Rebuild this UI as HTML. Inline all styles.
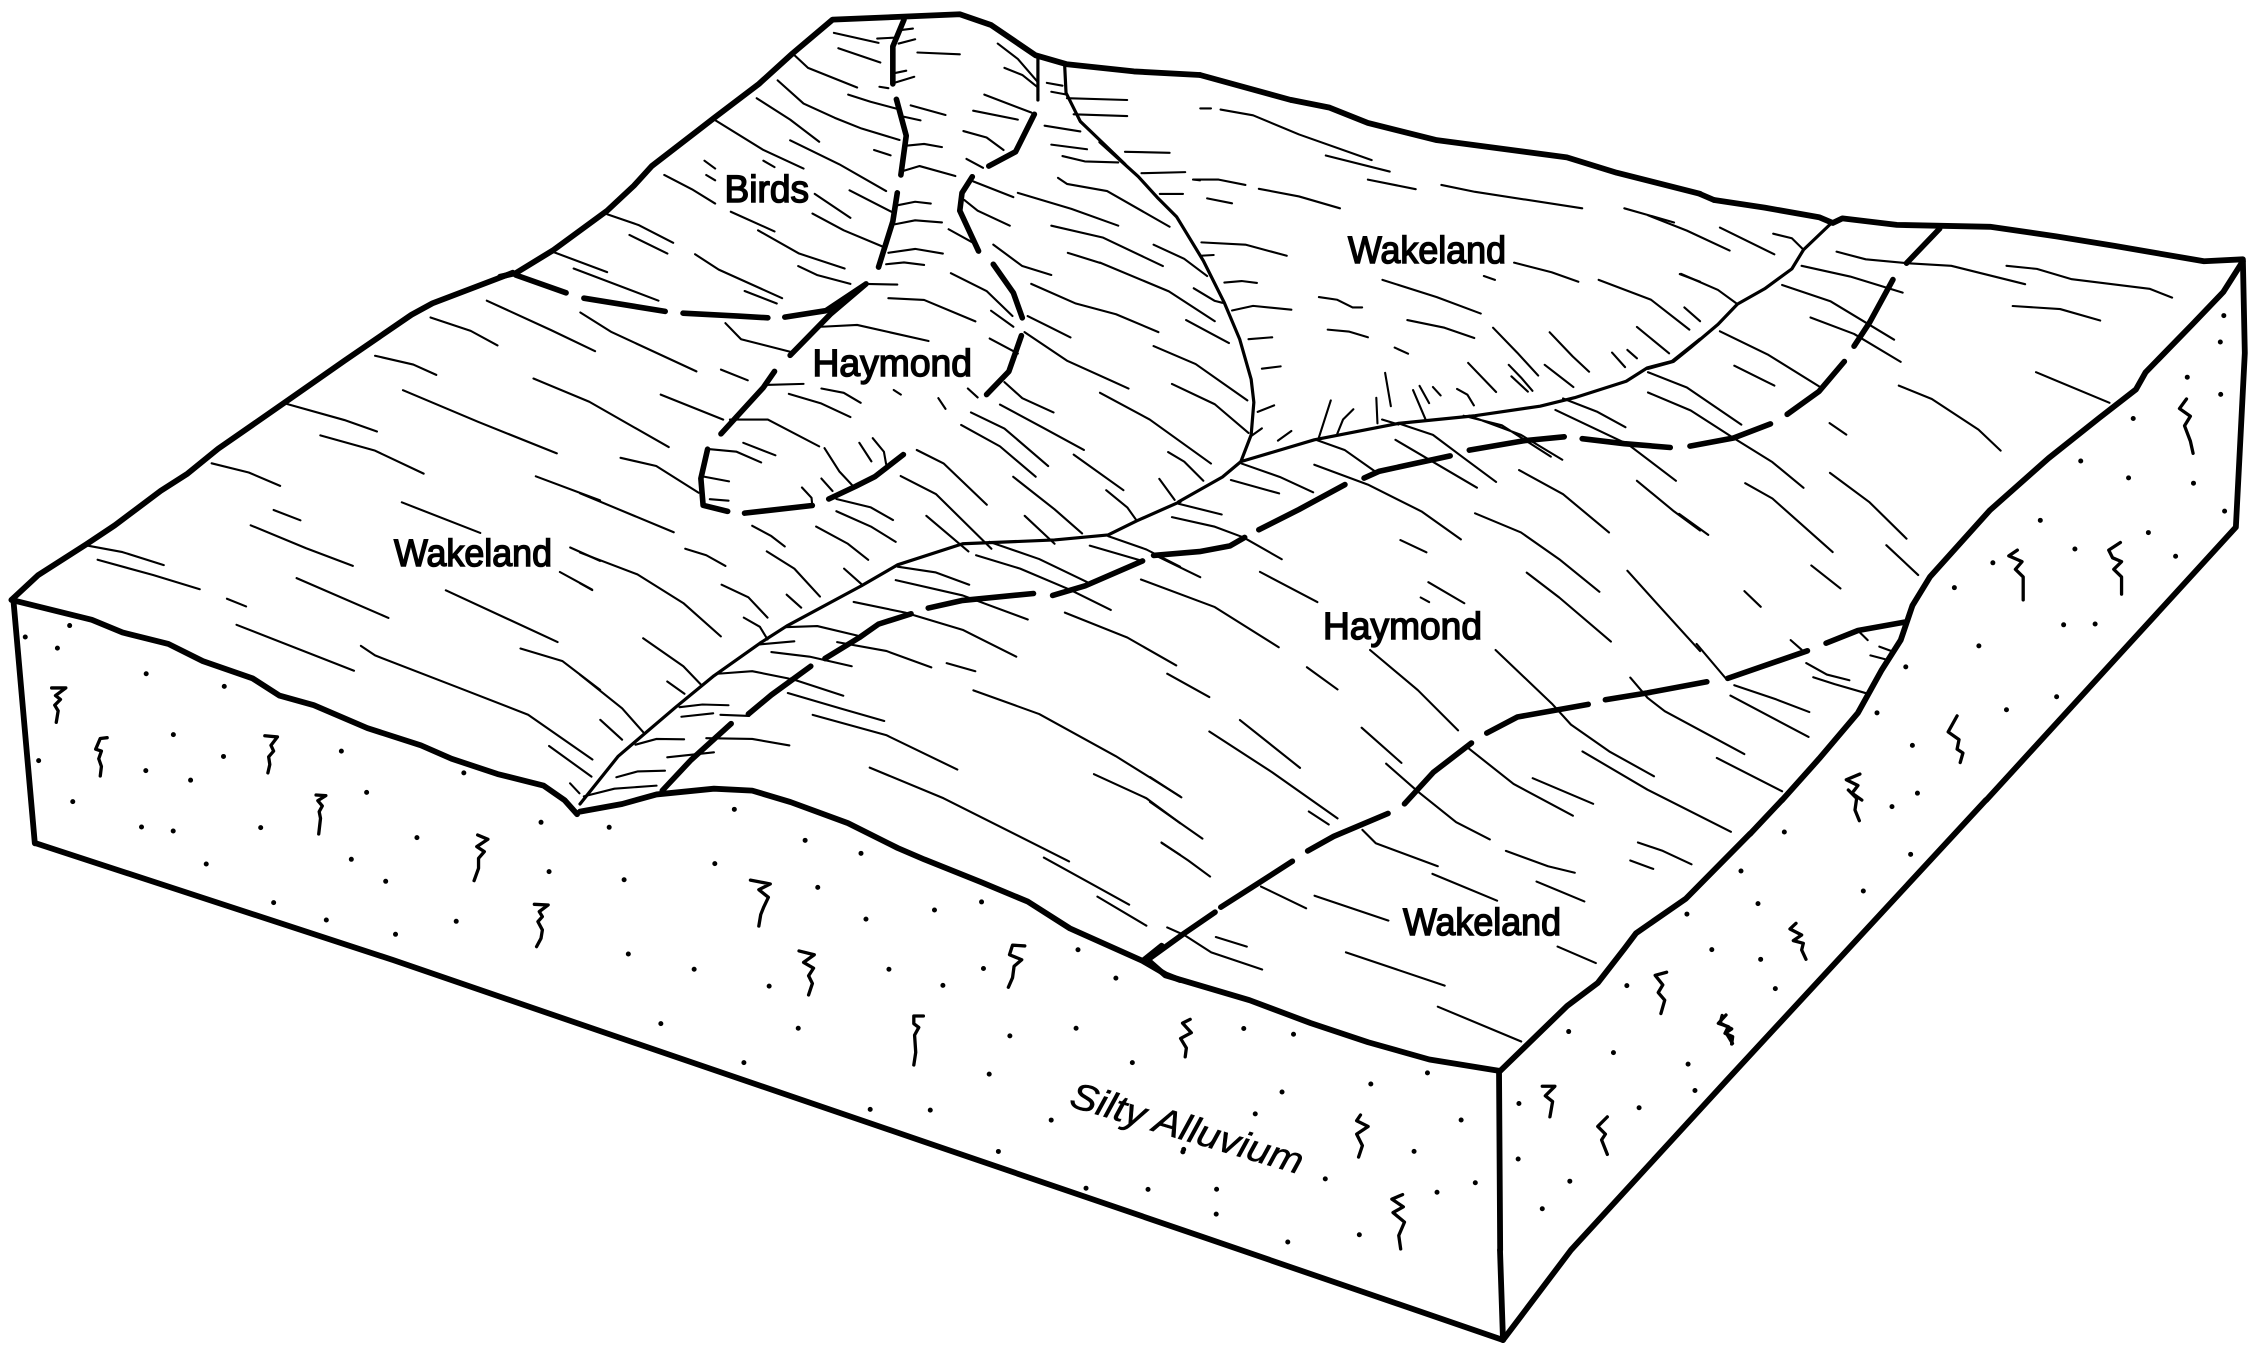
<!DOCTYPE html>
<html><head><meta charset="utf-8"><style>
html,body{margin:0;padding:0;background:#fff}
svg{display:block}
path{fill:none;stroke:#000;vector-effect:non-scaling-stroke;stroke-linecap:round;stroke-linejoin:round}
.t{stroke-width:2.1}.m{stroke-width:3.2}.b{stroke-width:5.6}.o{stroke-width:5.8}.d{stroke-width:5}.s{stroke-width:3.3}
text{font-family:"Liberation Sans",sans-serif;fill:#000;stroke:#000;stroke-width:1.5}
</style></head><body>
<svg width="2248" height="1346" viewBox="0 0 2248 1346" xmlns="http://www.w3.org/2000/svg">
<rect width="2248" height="1346" fill="#fff"/>

<!-- connecting outline pieces in real coordinates -->
<path class="o" d="M1200 75L1291 100"/>
<path class="o" d="M1700 194L1714 200"/>
<path class="o" d="M1750 834L1782 800"/>
<path class="o" d="M1986 800L1727 1080L1571 1250L1503 1340"/>
<path class="o" d="M35 843L393 960L600 1031L1200 1236L1503 1340"/>
<path class="o" d="M1500 1250L1503 1340"/>

<!-- Z1 -->
<g transform="translate(500,0) scale(.4464,.3571)">
<path class="o" d="M0 775L35 765L120 700L240 590L300 520L340 465L480 330L580 235L655 150L745 55L1030 40L1100 70L1200 155L1270 180L1420 200L1568 210"/>
<path class="m" d="M1205 160L1205 280M1265 185L1268 260L1300 340L1400 460"/>
<path class="b" d="M905 55L880 130L880 235M888 278L910 380L898 490M890 540L880 620L848 748M35 770L148 820M188 835L370 872M410 877L533 885L600 890M638 888L730 870L820 795M820 795L740 880L650 995M615 1040L590 1085L495 1215M465 1258L450 1340L455 1415L510 1432M1095 465L1155 425L1197 320M1058 495L1035 540L1030 590L1072 703M1105 740L1150 820L1170 890M1168 940L1140 1040L1090 1105"/>
<path class="t" d="M820 795L890 797M748 92L848 120M758 135L852 175M845 108L890 105M893 85L925 80M893 122L930 110M883 205L910 198M883 232L928 215M850 243L870 247M935 147L1030 152M1115 122L1160 165L1205 230M1130 190L1170 210L1205 245M1225 232L1260 240M1235 257L1270 265M1270 275L1405 280M1285 320L1405 325M1220 352L1300 368M1235 405L1315 418M1400 425L1500 428M1260 437L1310 452L1385 455M1437 485L1535 482M1555 503L1568 505M1478 543L1530 543M660 155L690 190L800 245M780 265L830 285L890 305M622 225L680 290L750 330L810 360L895 392M575 275L650 335L715 397M920 295L998 322M905 327L942 337M1060 310L1160 335M1085 265L1190 315M910 408L950 403L990 412M838 420L875 435M1038 367L1090 385L1128 420M1045 445L1082 470M480 335L590 420L680 472M650 393L760 460L865 535M590 450L615 468M458 450L482 472M462 490L482 505M368 490L430 530L482 570M900 480L940 465L1020 493M705 543L785 610M783 533L880 595M700 598L770 645L860 692M890 575L930 565L965 570M885 628L930 617L990 623M870 708L930 697L992 710M865 740L905 735L950 742M517 593L615 648M578 645L670 710L772 752M668 745L710 770L785 795M240 600L310 630L388 680M290 658L375 710M437 712L490 755L632 835M548 815L620 850M118 705L240 762M165 752L355 842M1060 508L1150 552M1160 540L1280 585L1385 632M1250 498L1270 515L1360 535L1500 635M1040 560L1070 590L1142 632M1005 642L1060 680M1235 632L1350 665L1485 745M1105 685L1170 745L1235 770M1272 708L1344 736M1190 795L1290 850L1380 880L1475 930M1010 765L1090 815L1148 885M1100 870L1150 915M1182 885L1230 915L1278 945M870 835L950 840L1065 900M720 915L800 910L960 955M505 905L540 950L650 985M1175 930L1270 1010L1408 1088M1097 948L1160 990M595 1078L680 1075M720 1088L770 1100L808 1128M647 1103L720 1130L785 1168M882 1092L898 1105M982 1115L998 1145M1048 1088L1070 1113M180 875L250 930L440 1040M495 1035L555 1065M75 1060L200 1125L378 1252M360 1105L500 1175M515 1175L600 1175L715 1250M1130 1070L1170 1115L1240 1155M1120 1133L1220 1200L1308 1260M1055 1155L1130 1200L1228 1305M1033 1190L1120 1250L1200 1335M470 1258L530 1265L585 1295M545 1240L617 1275M458 1335L513 1348M470 1398L512 1402M805 1240L832 1292M835 1227L860 1265L865 1300M727 1255L760 1320L790 1360M270 1282L350 1305L445 1380M720 1340L745 1375"/>
</g>

<!-- Z2 -->
<g transform="translate(0,560) scale(.4464,.3333)">
<path class="o" d="M30 120L78 850"/>
<path class="t" d="M1277 670L1298 700M1230 558L1325 650"/>
<path class="d" d="M163 725h.01M317 801h.01M388 813h.01M584 803h.01M462 912h.01M787 898h.01M934 833h.01M864 964h.01M613 1028h.01M731 1080h.01M1022 1084h.01M886 1123h.01M1230 935h.01M1212 787h.01"/>
<path class="s" d="M708 705L730 707L712 722L722 738L715 755L718 775L714 822M1070 825L1093 838L1068 860L1085 875L1072 895L1072 925L1062 962M1197 1033L1228 1035L1208 1055L1215 1070L1205 1085L1215 1110L1212 1135L1202 1160"/>
</g>

<!-- Z3 -->
<g transform="translate(0,200) scale(.3827)">
<path class="o" d="M30 1045L100 980L225 900L300 850L420 760L490 715L570 650L750 525L900 420L1075 300L1130 270L1340 190"/>
<path class="o" d="M30 1045L240 1097L320 1130L440 1160L530 1205L660 1250L730 1295L820 1320L960 1380L1100 1425L1180 1460L1300 1500L1420 1530L1475 1568L1508 1605"/>
<path class="t" d="M1272 263L1440 340L1555 395M1125 307L1230 342L1300 380M980 407L1080 430L1140 457M1053 497L1250 580L1455 662M750 533L900 575L985 605M837 615L980 655L1107 715M1400 722L1568 785M553 688L650 712L732 747M715 810L785 837M655 850L800 910L922 956M1050 790L1255 870M228 903L320 920L428 954M255 940L400 980L522 1017M775 988L1015 1092M593 1042L643 1062M1165 1020L1457 1155M1463 972L1547 1018M1490 908L1568 943M618 1110L925 1230M943 1165L980 1190L1200 1275L1380 1345L1548 1462M1360 1172L1470 1205L1568 1280"/>
<path class="d" d="M182 1112h.01M66 1142h.01M150 1171h.01M382 1238h.01M586 1271h.01M453 1397h.01M584 1454h.01M892 1440h.01M101 1465h.01M381 1491h.01M498 1516h.01M1212 1497h.01M958 1548h.01"/>
<path class="s" d="M135 1275L172 1275L145 1295L158 1305L143 1320L152 1335L147 1365M280 1405L262 1407L250 1435L265 1440L258 1460L265 1480L262 1505M692 1400L725 1403L708 1425L715 1440L702 1455L705 1475L700 1497"/>
</g>

<!-- Z4 -->
<g transform="translate(580,450) scale(.3827)">
<path class="o" d="M0 945L110 925L200 900L350 885L450 890L550 920L700 975L830 1040L900 1070L1050 1130L1170 1180L1280 1250L1470 1335L1530 1370L1568 1385"/>
<path class="m" d="M0 925L100 800L250 672L350 590L470 505L540 460L735 355L830 300L1000 245L1240 235L1380 222L1455 185L1568 135"/>
<path class="b" d="M650 128L720 95L770 70L845 12M430 165L607 145M440 690L500 640L603 565M215 890L290 810L395 715M640 545L730 490L780 455L865 428M910 413L1000 393L1185 375M1235 380L1320 355L1470 290M1470 1335L1520 1295"/>
<path class="t" d="M0 113L245 215M275 258L330 275L380 303M0 268L150 325L270 400L368 487M0 348L32 366M450 198L500 225L535 252M488 265L560 310L627 383M370 352L440 385L490 438M428 438L470 462L490 495M540 378L578 412M690 310L735 350M165 492L270 565L318 615M228 605L273 637M0 587L110 675L165 737M53 705L110 757M580 98L605 125L607 145M670 128L760 150L818 183M670 160L760 200L825 240M617 200L700 245L753 287M838 68L930 115L1075 258M905 172L1015 265M880 0L950 35L1063 143M1132 70L1240 155L1312 218M1162 172L1240 245M1290 12L1420 105M1375 105L1430 150L1455 185M830 305L930 320L1017 352M825 340L1000 380L1170 443M715 397L850 425L1000 470L1140 540M1035 275L1150 310L1280 365L1387 418M1070 240L1200 285L1325 345M1380 225L1480 260L1568 305M1332 250L1470 290M1267 425L1430 490L1558 563M535 463L620 460L725 485M470 508L560 500M500 528L600 540L710 565M672 502L800 525L918 568M958 557L1033 578M355 585L450 578L545 597M550 597L688 642M543 635L680 675L795 708M608 692L800 745L986 835M1028 628L1200 690L1400 800L1568 905M260 672L320 665L388 667M265 697L348 688M367 692L442 695M145 770L200 755L272 756M330 753L450 755L547 772M228 803L350 790M95 855L150 840L222 838M10 905L90 885L200 877M757 830L950 910L1278 1075M1212 1065L1435 1188M1352 1167L1480 1243M1343 847L1480 910L1568 975M1520 1027L1568 1058"/>
</g>

<!-- Z5 -->
<g transform="translate(1100,100) scale(.3827)">
<path class="o" d="M500 0L600 20L700 60L880 105L1220 150L1350 190L1568 245"/>
<path class="m" d="M205 1050L320 985L368 945L560 888L780 845L980 825L1150 800L1240 778L1375 735L1430 700L1495 683L1568 625M0 110L100 200L150 255L200 305L270 420L325 530L365 625L395 730L402 790L395 875L368 945"/>
<path class="b" d="M140 1190L260 1180L340 1165L378 1143M415 1123L520 1070L640 1005M690 988L730 970L915 930M965 915L1110 890L1213 880M1260 885L1370 898L1490 908"/>
<path class="t" d="M0 425L180 500L300 578M140 378L220 415L280 460M245 492L300 525L320 530M225 575L290 610L337 635M140 643L250 690L385 785M188 742L300 795L388 870M0 765L130 835L290 950M178 920L220 945L270 995M155 990L195 1045M205 1055L318 1083M188 1090L300 1115L375 1143L475 1200M145 1190L262 1247M107 1253L300 1325L467 1430M262 22L290 22M315 25L400 40L520 90L710 157M590 145L757 187M700 208L825 233M892 222L980 240L1260 283M1370 283L1500 320M243 208L310 208L380 222M415 232L520 252L627 283M280 257L345 270M265 372L380 378L488 407M263 407L297 405M325 477L370 473L410 478M345 550L400 538L500 548M388 625L450 620M423 702L472 696M412 815L455 798M395 878L423 858M465 890L500 865M572 515L620 522L660 542L685 542M595 600L650 605L700 620M738 470L880 515L995 558M1003 460L1032 470M1082 425L1180 450L1250 475M1303 470L1440 522L1540 600M1515 455L1568 475M1527 542L1568 578M803 575L900 595L978 622M770 647L805 663M1027 595L1090 660L1145 720M1175 607L1235 670L1278 710M1403 593L1487 662M1338 660L1372 698M1378 653L1403 675M962 687L1035 763M1162 692L1237 750M1068 692L1100 725L1130 760M1075 722L1118 762M745 713L760 800M722 778L725 845M835 747L860 792M870 750L890 772M818 758L850 833M933 755L960 770L977 798M603 785L570 888M662 808L635 835L620 872M737 835L780 848M780 845L870 875L950 935L1035 998M772 888L985 1013M950 825L1050 850L1178 932M965 825L1100 875L1208 940M1210 780L1300 815L1373 855M1190 810L1380 900L1505 995M370 950L470 985L557 1025M342 993L468 1028M565 888L640 915L725 975M560 953L700 1005L840 1075L943 1148M1095 967L1210 1030L1330 1130M1403 995L1500 1075L1568 1125M980 1080L1100 1130L1200 1200L1305 1285M785 1150L853 1182M858 1260L952 1315M838 1300L860 1312M418 1233L568 1312M1115 1235L1200 1300L1335 1415M1378 1230L1450 1310L1568 1440"/>
</g>

<!-- Z6 -->
<g transform="translate(1150,650) scale(.3827)">
<path class="o" d="M0 815L40 850L260 915L420 975L570 1025L730 1070L915 1100L1090 930L1170 870L1240 780L1270 740L1400 650L1568 480"/>
<path class="o" d="M912 1100L915 1568"/>
<path class="b" d="M0 805L90 740L170 685M185 672L290 605L372 552M412 525L480 487L622 427M665 402L740 320L840 243M880 217L960 175L1145 142M1190 130L1300 112L1455 83"/>
<path class="t" d="M45 62L155 123M410 45L490 103M575 0L700 105L805 210M903 0L1050 140L1100 195L1200 265L1317 330M1255 72L1300 125L1345 160L1553 272M235 183L392 308M155 213L320 320L490 440M553 203L657 295M617 297L700 370L800 450L888 495M830 255L950 350L1105 433M1000 335L1158 402M1130 265L1300 365L1518 475M0 332L82 385M0 397L137 493M30 503L100 550L157 592M415 422L467 456M555 470L590 505L752 565M738 585L907 655M930 525L1040 565L1110 582M1010 605L1135 657M1275 503L1340 525L1415 560M1255 550L1315 572M290 618L408 675M430 642L623 707M45 725L90 745L160 790L293 835M172 750L253 775M512 790L770 877M752 932L970 1023M1065 775L1165 818"/>
<path class="d" d="M245 989h.01M375 1004h.01M725 1105h.01M577 1134h.01M345 1155h.01M275 1212h.01M813 1228h.01M690 1310h.01M88 1305h.01M458 1382h.01M850 1392h.01M750 1417h.01M174 1409h.01M173 1474h.01M547 1528h.01M360 1547h.01M964 1185h.01M962 1330h.01M1097 1388h.01M1025 1460h.01M1094 997h.01M1211 1052h.01M1406 1082h.01M1424 1151h.01M1278 1196h.01M1403 690h.01M1468 783h.01M1246 877h.01"/>
<path class="s" d="M105 965L85 975L108 1000L80 1015L95 1040L92 1063M550 1215L540 1230L570 1245L540 1265L555 1295L545 1325M660 1423L632 1435L662 1455L635 1470L665 1495L650 1530L655 1565M1025 1140L1058 1140L1033 1165L1052 1180L1045 1220M1195 1220L1170 1245L1190 1265L1180 1280L1195 1318M1350 842L1320 850L1340 875L1328 895L1345 915L1335 950M1495 955L1490 975L1520 990L1505 1000L1522 1028"/>
</g>

<!-- Z7 -->
<g transform="translate(1648,200) scale(.3888,.3827)">
<path class="o" d="M345 1568L440 1460L540 1340L600 1230L650 1150L680 1060L725 985L880 810L1030 675L1160 570L1255 495L1280 450L1400 325L1480 240L1530 160"/>
<path class="o" d="M170 0L300 20L440 45L475 60L500 48L640 65L880 70L1050 95L1200 120L1430 160L1530 155L1535 400L1512 855L870 1568"/>
<path class="m" d="M0 440L65 422L110 385L180 325L230 272L300 232L370 180L400 130L470 62"/>
<path class="b" d="M108 643L220 622L315 585M358 560L440 500L505 422M530 382L570 320L630 208M665 165L750 75M205 1250L410 1178M458 1158L540 1125L660 1103"/>
<path class="t" d="M0 40L100 80L210 132M185 72L325 142M322 88L370 100L400 130M85 193L180 235L230 272M185 343L310 405L440 487M222 433L325 485M0 450L100 490L240 587M0 503L110 550L220 622L320 685L400 752M80 820L155 875M485 135L560 155L665 165L780 172L970 220M922 172L1000 180L1090 207L1290 232L1348 255M395 172L520 200L655 242M345 222L470 265L633 365M418 307L530 350L650 423M938 277L1060 285L1163 315M998 450L1187 530M645 485L730 520L850 600L907 655M467 583L510 613M468 713L570 790L665 885M250 740L320 780L475 920M613 902L695 980M420 955L495 1015M248 1022L290 1063M125 1160L200 1250M367 1150L395 1175M545 1130L565 1150M595 1167L630 1180M572 1190L610 1200M407 1210L460 1240L518 1255M425 1247L480 1265L565 1290M222 1268L330 1305L415 1338M212 1295L413 1403M177 1458L345 1545"/>
<path class="d" d="M1481 302h.01M1472 371h.01M1387 463h.01M1473 508h.01M1248 571h.01M1113 682h.01M1236 726h.01M1403 740h.01M1483 813h.01M1009 837h.01M1287 869h.01M1098 912h.01M1357 931h.01M887 948h.01M788 1013h.01M1069 1110h.01M1150 1108h.01M851 1165h.01M663 1220h.01M1051 1298h.01M922 1332h.01M589 1340h.01M680 1425h.01M693 1550h.01"/>
<path class="s" d="M1385 520L1367 545L1395 565L1380 590L1395 630L1402 662M950 915L928 930L962 945L945 965L965 985L965 1045M1215 895L1185 915L1195 935L1218 945L1198 965L1218 985L1218 1030M795 1348L772 1390L800 1410L795 1435L810 1445L803 1470M545 1500L510 1515L540 1530L525 1550L550 1568"/>
</g>

<!-- Z8 -->
<g transform="translate(600,750) scale(.3827)">
<path class="d" d="M351 155h.01M24 202h.01M536 236h.01M682 270h.01M300 297h.01M63 339h.01M569 359h.01M695 442h.01M874 418h.01M997 397h.01M74 533h.01M246 573h.01M442 617h.01M755 573h.01M1002 571h.01M896 615h.01M1249 522h.01M1348 596h.01M159 715h.01M518 727h.01M1071 747h.01M1244 727h.01M376 817h.01M1017 847h.01M1391 817h.01M706 939h.01M863 941h.01M1179 967h.01M1041 1049h.01M1270 1145h.01M1432 1148h.01M1523 1050h.01"/>
<path class="s" d="M393 340L445 350L415 365L440 385L428 410L420 430L415 460M520 525L560 535L532 555L558 570L545 590L555 610L545 640M1110 512L1078 510L1070 535L1102 548L1082 565L1078 595L1067 620M845 695L820 695L820 715L833 725L822 745L825 790L820 823"/>
</g>

<!-- Z9 -->
<g transform="translate(1700,780) scale(.3333)">
<path class="d" d="M253 156h.01M123 273h.01M174 371h.01M182 538h.01M226 626h.01M490 333h.01M632 223h.01M576 80h.01"/>
<path class="s" d="M288 430L270 447L305 465L280 482L310 490L305 510L318 538M78 705L55 730L85 740L75 760L98 770L95 792M445 30L470 55L465 90L478 122"/>
</g>

<text x="724.5" y="202" font-size="38" textLength="84.5" lengthAdjust="spacingAndGlyphs">Birds</text>
<text x="812.5" y="376" font-size="38" textLength="159.5" lengthAdjust="spacingAndGlyphs">Haymond</text>
<text x="394" y="566" font-size="38" textLength="158" lengthAdjust="spacingAndGlyphs">Wakeland</text>
<text x="1348" y="263" font-size="38" textLength="158" lengthAdjust="spacingAndGlyphs">Wakeland</text>
<text x="1323" y="639" font-size="38" textLength="159" lengthAdjust="spacingAndGlyphs">Haymond</text>
<text x="1403" y="935" font-size="38" textLength="158" lengthAdjust="spacingAndGlyphs">Wakeland</text>
<text transform="translate(1068,1106) rotate(16.5)" font-size="37" font-style="italic" textLength="241" lengthAdjust="spacingAndGlyphs" style="stroke-width:.5">Silty Alluvium</text>
</svg>
</body></html>
